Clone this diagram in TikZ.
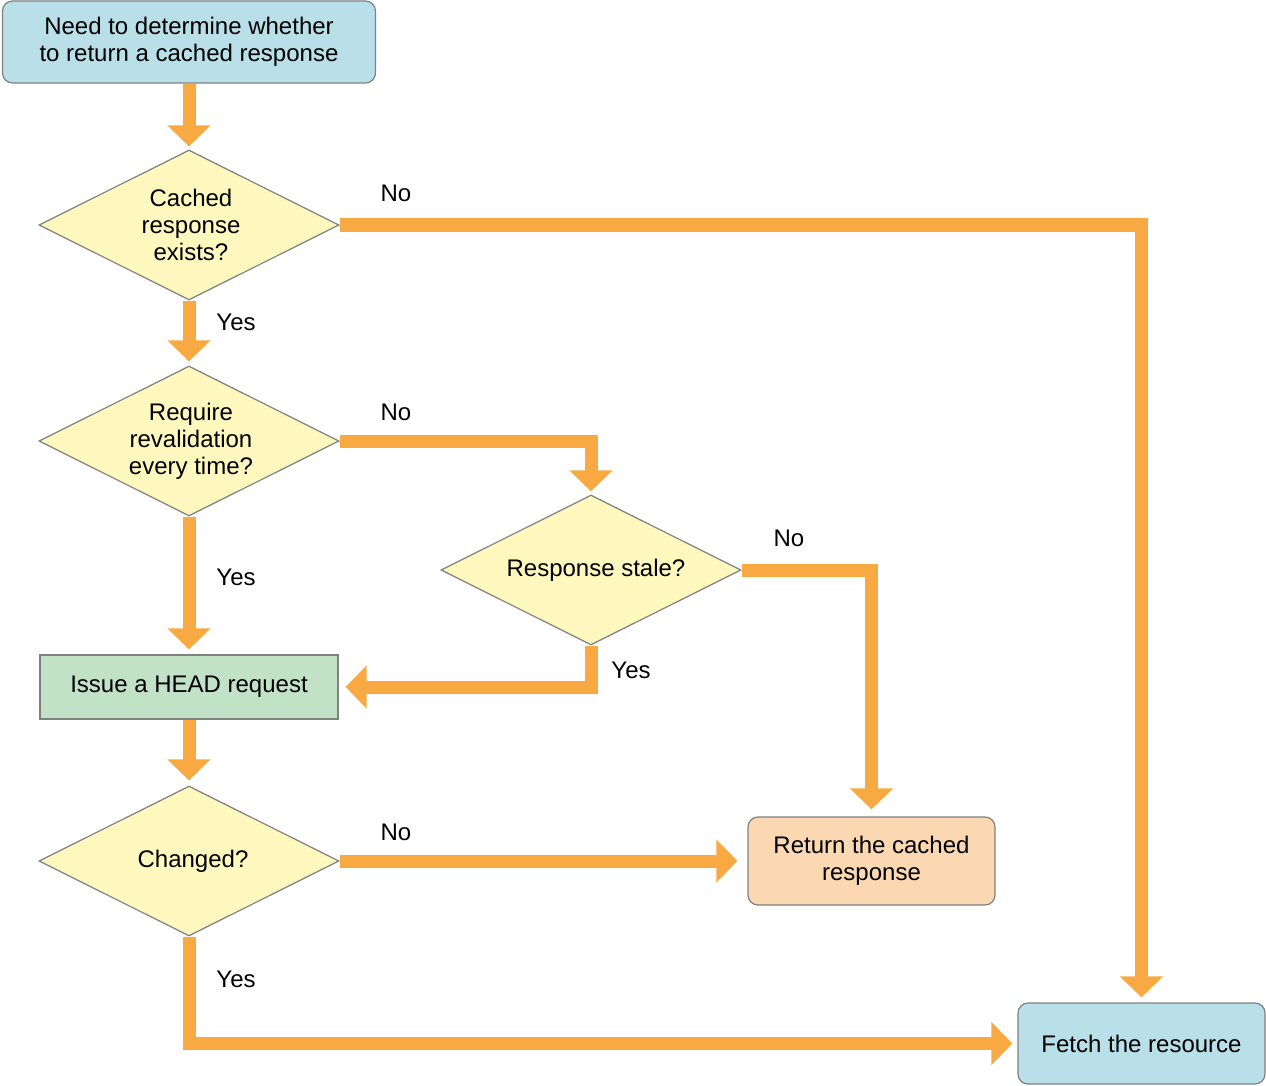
\documentclass[tikz,border=0pt]{standalone}
\usepackage{fontspec}
\setmainfont{Liberation Sans}
\usetikzlibrary{shapes.geometric,arrows.meta}
\definecolor{flow}{HTML}{F8A942}
\definecolor{bluebox}{HTML}{B9DFE9}
\definecolor{yellowbox}{HTML}{FEF8BF}
\definecolor{greenbox}{HTML}{C2E2C8}
\definecolor{peachbox}{HTML}{FBD8B2}
\definecolor{edge}{HTML}{808080}
\tikzset{
  txt/.style={align=center, inner sep=0pt, font=\fontsize{24}{27}\selectfont},
  base/.style={txt, draw=edge, line width=1.2pt},
  roundbox/.style={base, rectangle, rounded corners=10pt},
  plainbox/.style={base, rectangle},
  decision/.style={draw=edge, line width=1.2pt, diamond, inner sep=0pt, fill=yellowbox,
    minimum width=300pt, minimum height=150pt},
  flowline/.style={draw=flow, line width=13pt,
    -{Triangle[width=42pt,length=21pt]}},
  lbl/.style={txt}
}
\begin{document}
\begin{tikzpicture}[x=1pt,y=-1pt]
\useasboundingbox (0,0) rectangle (1266,1086);
\node[roundbox, fill=bluebox, minimum width=373pt, minimum height=82pt] (start) at (189,42)
  {Need to determine whether\\to return a cached response};
\node[decision, label={[txt, xshift=2pt]center:Cached\\response\\exists?}] (d1) at (189,225) {};
\node[decision, label={[txt, xshift=2pt]center:Require\\revalidation\\every time?}] (d2) at (189,441) {};
\node[decision, label={[txt, xshift=5pt]center:Response stale?}] (d3) at (591,570) {};
\node[plainbox, fill=greenbox, minimum width=298pt, minimum height=64pt] (issue) at (189,687)
  {Issue a HEAD request};
\node[decision, label={[txt, xshift=4pt]center:Changed?}] (d4) at (189,861) {};
\node[roundbox, fill=peachbox, minimum width=247pt, minimum height=88pt] (ret) at (871.5,861)
  {Return the cached\\response};
\node[roundbox, fill=bluebox, minimum width=247pt, minimum height=81pt] (fetch) at (1141.5,1043.5)
  {Fetch the resource};

\draw[flowline, shorten >=3pt] (start.south) -- (d1.north);
\draw[flowline, shorten >=5pt] (d1.east) -| (fetch.north);
\draw[flowline, shorten >=4pt] (d1.south) -- (d2.north);
\draw[flowline, shorten >=3pt] (d2.east) -| (d3.north);
\draw[flowline, shorten >=5pt] (d2.south) -- (issue.north);
\draw[flowline, shorten >=7pt] (d3.east) -| (ret.north);
\draw[flowline, shorten >=7pt] (d3.south) |- (issue.east);
\draw[flowline, shorten >=5pt] (issue.south) -- (d4.north);
\draw[flowline, shorten >=10pt] (d4.east) -- (ret.west);
\draw[flowline, shorten >=5pt] (d4.south) |- (fetch.west);

\node[lbl] (l1) at (396,193) {No};
\node[lbl] (l2) at (236,322) {Yes};
\node[lbl] (l3) at (396,412) {No};
\node[lbl] (l4) at (236,577) {Yes};
\node[lbl] (l5) at (789,538) {No};
\node[lbl] (l6) at (631,670) {Yes};
\node[lbl] (l7) at (396,832) {No};
\node[lbl] (l8) at (236,979) {Yes};
\end{tikzpicture}
\end{document}
